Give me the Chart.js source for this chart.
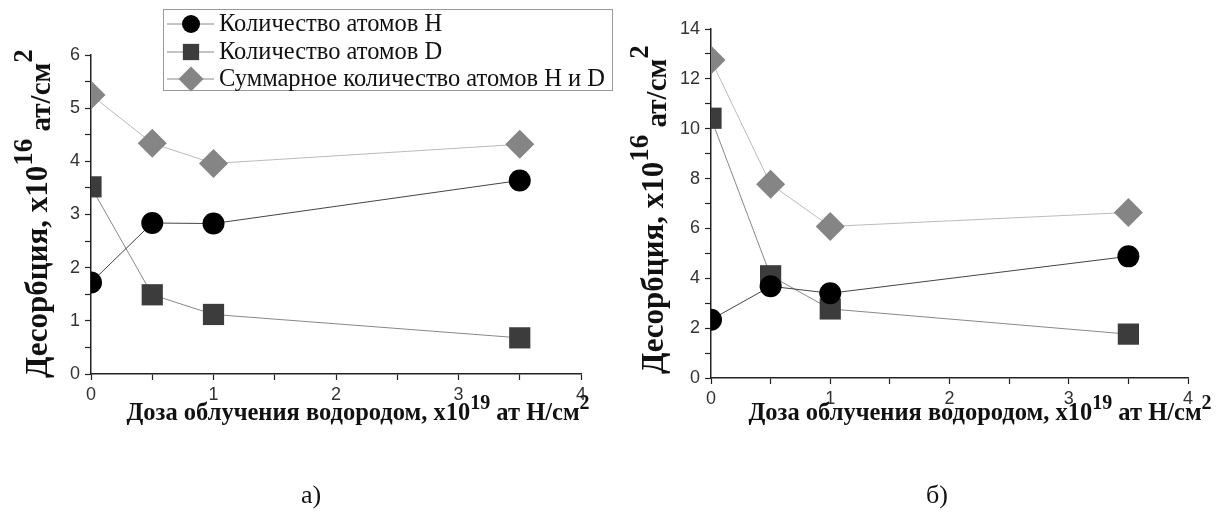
<!DOCTYPE html>
<html>
<head>
<meta charset="utf-8">
<script src="https://cdn.jsdelivr.net/npm/chart.js@4"></script>
<style>
  body { margin: 0; background: #fff; }
  #wrap { position: relative; width: 1224px; height: 517px; }
  .box { position: absolute; top: 0; height: 517px; }
  #boxA { left: 0; width: 620px; }
  #boxB { left: 620px; width: 604px; }
</style>
</head>
<body>
<div id="wrap">
  <div class="box" id="boxA"><canvas id="chartA"></canvas></div>
  <div class="box" id="boxB"><canvas id="chartB"></canvas></div>
</div>
<script>
// Data
const doses = [0, 0.5, 1, 3.5];
const seriesNames = ["Количество атомов H", "Количество атомов D", "Суммарное количество атомов H и D"];

const hA = [1.72, 2.84, 2.83, 3.64];
const dA = [3.52, 1.49, 1.12, 0.68];
const sumA = [5.25, 4.34, 3.96, 4.32];

const hB = [2.34, 3.68, 3.40, 4.88];
const dB = [10.42, 4.10, 2.77, 1.76];
const sumB = [12.76, 7.77, 6.08, 6.64];

const xTickLabels = [0, 1, 2, 3, 4];
const yTickLabelsA = [0, 1, 2, 3, 4, 5, 6];
const yTickLabelsB = [0, 2, 4, 6, 8, 10, 12, 14];
const captions = ["а)", "б)"];

const SERIF = '"Liberation Serif", "Times New Roman", serif';
const SANS = '"Liberation Sans Narrow", "Liberation Sans", Arial, sans-serif';

function pts(ys) {
  return doses.map((x, i) => ({ x: x, y: ys[i] }));
}

// draw text made of parts (superscripts etc.), optionally rotated
function drawRich(ctx, parts, x, y, rotated, centered) {
  ctx.save();
  ctx.fillStyle = "#111";
  ctx.textBaseline = "alphabetic";
  ctx.textAlign = "left";
  let total = 0;
  parts.forEach(p => {
    ctx.font = "bold " + p.s + "px " + SERIF;
    total += ctx.measureText(p.t).width;
  });
  ctx.translate(x, y);
  if (rotated) ctx.rotate(-Math.PI / 2);
  let cx = centered ? -total / 2 : 0;
  parts.forEach(p => {
    ctx.font = "bold " + p.s + "px " + SERIF;
    ctx.fillText(p.t, cx, p.dy);
    cx += ctx.measureText(p.t).width;
  });
  ctx.restore();
}

const xTitle = [
  { t: "Доза облучения водородом, x10", s: 24.5, dy: 0 },
  { t: "19", s: 20, dy: -11 },
  { t: " ат H/см", s: 24.5, dy: 0 },
  { t: "2", s: 20, dy: -11 }
];
const yTitle = [
  { t: "Десорбция, x10", s: 31, dy: 0 },
  { t: "16", s: 27, dy: -15 },
  { t: " ат/см", s: 29, dy: 3 },
  { t: "2", s: 27, dy: -15 }
];

const decorPlugin = {
  id: "decor",
  afterDraw(chart, args, o) {
    const ctx = chart.ctx;
    drawRich(ctx, xTitle, o.xCenter, o.xBase, false, true);
    drawRich(ctx, yTitle, o.yX, o.yStart, true, false);
    ctx.save();
    ctx.font = "26px " + SERIF;
    ctx.fillStyle = "#111";
    ctx.textAlign = "center";
    ctx.fillText(o.caption, o.capX, 503);
    ctx.restore();

    if (o.legend) {
      ctx.save();
      ctx.strokeStyle = "#999";
      ctx.lineWidth = 1;
      ctx.strokeRect(163.5, 9.5, 449, 81);
      const rows = [24, 52, 79];
      const radii = [9, 11.5, 12.5];
      chart.data.datasets.forEach((ds, i) => {
        const y = rows[i];
        ctx.strokeStyle = "#888";
        ctx.beginPath();
        ctx.moveTo(167, y);
        ctx.lineTo(214, y);
        ctx.stroke();
        ctx.fillStyle = ds.pointBackgroundColor;
        ctx.strokeStyle = ds.pointBackgroundColor;
        Chart.helpers.drawPoint(ctx, { pointStyle: ds.pointStyle, radius: radii[i], borderWidth: 0, rotation: 0 }, 191, y);
        ctx.font = "24.5px " + SERIF;
        ctx.fillStyle = "#111";
        ctx.textBaseline = "middle";
        ctx.fillText(ds.label, 219, y + 1);
      });
      ctx.restore();
    }
  }
};

function makeChart(id, h, d, s, yMax, yStep, yLabels, dims, decor) {
  return new Chart(document.getElementById(id), {
    type: "line",
    data: {
      datasets: [
        { label: seriesNames[0], data: pts(h), borderColor: "#444", borderWidth: 1,
          pointStyle: "circle", pointRadius: 11, pointBackgroundColor: "#000", pointBorderColor: "#000", pointBorderWidth: 0 },
        { label: seriesNames[1], data: pts(d), borderColor: "#888", borderWidth: 1,
          pointStyle: "rect", pointRadius: 15, pointBackgroundColor: "#3c3c3c", pointBorderColor: "#3c3c3c", pointBorderWidth: 0 },
        { label: seriesNames[2], data: pts(s), borderColor: "#bbb", borderWidth: 1,
          pointStyle: "rectRot", pointRadius: 14.5, pointBackgroundColor: "#858585", pointBorderColor: "#858585", pointBorderWidth: 0 }
      ]
    },
    options: {
      responsive: true,
      maintainAspectRatio: false,
      animation: false,
      layout: { padding: { left: 0, right: dims.padRight, top: dims.padTop, bottom: 0 } },
      plugins: {
        legend: { display: false },
        tooltip: { enabled: false },
        decor: decor
      },
      scales: {
        x: {
          type: "linear", min: 0, max: 4,
          afterFit: sc => { sc.height = dims.xHeight; },
          grid: { drawOnChartArea: false, tickLength: 6, color: "#222", tickWidth: 1.2 },
          border: { color: "#222", width: 1.5 },
          ticks: {
            stepSize: 0.5, autoSkip: false, maxRotation: 0, padding: 4,
            color: "#333", font: { family: SANS, size: 18 },
            callback: v => xTickLabels.includes(v) ? String(v) : ""
          }
        },
        y: {
          min: 0, max: yMax,
          afterFit: sc => { sc.width = dims.yWidth; },
          grid: { drawOnChartArea: false, tickLength: 6, color: "#222", tickWidth: 1.2 },
          border: { color: "#222", width: 1.5 },
          ticks: {
            stepSize: yStep, autoSkip: false, padding: 5,
            color: "#333", font: { family: SANS, size: 18 },
            callback: v => yLabels.includes(v) ? String(v) : ""
          }
        }
      }
    },
    plugins: [decorPlugin]
  });
}

makeChart("chartA", hA, dA, sumA, 6, 0.5, yTickLabelsA,
  { yWidth: 91, xHeight: 143, padTop: 55, padRight: 39 },
  { xCenter: 358, xBase: 420, yX: 47, yStart: 378, caption: captions[0], capX: 311, legend: true });

makeChart("chartB", hB, dB, sumB, 14, 1, yTickLabelsB,
  { yWidth: 91, xHeight: 139, padTop: 29, padRight: 36 },
  { xCenter: 360, xBase: 420, yX: 43, yStart: 374, caption: captions[1], capX: 317, legend: false });
</script>
</body>
</html>
